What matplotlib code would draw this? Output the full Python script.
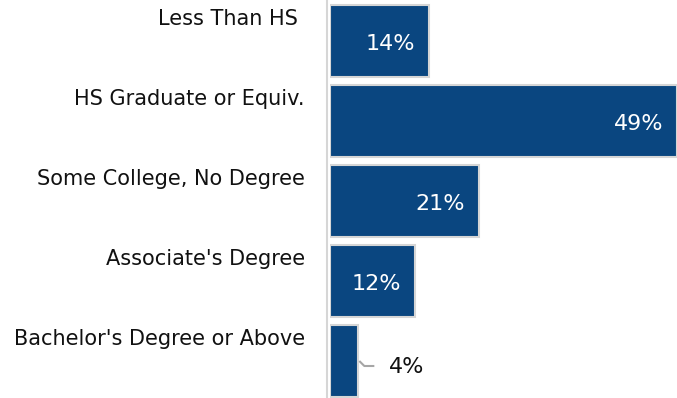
import matplotlib
matplotlib.use("Agg")
import matplotlib.pyplot as plt

categories = [
    "Less Than HS ",
    "HS Graduate or Equiv.",
    "Some College, No Degree",
    "Associate's Degree",
    "Bachelor's Degree or Above",
]
shares = [14, 49, 21, 12, 4]
value_labels = ["14%", "49%", "21%", "12%", "4%"]

BAR_COLOR = "#0a4680"
EDGE_COLOR = "#d6d6d6"
FONT = "DejaVu Sans"

W, H, DPI = 677, 398, 100
fig = plt.figure(figsize=(W / DPI, H / DPI), dpi=DPI)
ax = fig.add_axes([330 / W, 0, 1 - 330 / W, 1])

ypos = list(range(len(categories)))
ax.barh(ypos, shares, height=0.9, color=BAR_COLOR, edgecolor=EDGE_COLOR,
        linewidth=1.5, zorder=2)

ax.set_xlim(0, 49)
ax.set_ylim(4 + (H - 361) / 80, -41 / 80)

for s in ["top", "right", "bottom"]:
    ax.spines[s].set_visible(False)
ax.spines["left"].set_color(EDGE_COLOR)
ax.spines["left"].set_linewidth(1.5)
ax.spines["left"].set_position(("outward", 2))
ax.set_xticks([])
ax.set_yticks([])

# Category names sit beside the top edge of each bar
for y, name in zip(ypos, categories):
    ax.annotate(name, xy=(0, y - 0.45), xycoords=("axes fraction", "data"),
                xytext=(-25, -14), textcoords="offset pixels",
                ha="right", va="center", fontsize=15, family=FONT,
                color="#111111")

# Value labels: inside the bar end, or outside with a leader for short bars
for y, v, lab in zip(ypos, shares, value_labels):
    if v >= 10:
        ax.annotate(lab, xy=(v, y), xycoords="data",
                    xytext=(-14, -3), textcoords="offset pixels",
                    ha="right", va="center", fontsize=16, family=FONT,
                    color="white", zorder=3)
    else:
        ax.annotate(lab, xy=(v, y), xycoords="data",
                    xytext=(31, -6), textcoords="offset pixels",
                    ha="left", va="center", fontsize=16, family=FONT,
                    color="#111111", zorder=3)
        base = ax.transData.transform((v, y))
        xs = [base[0] + 1, base[0] + 6, base[0] + 16]
        ys = [base[1], base[1] - 5, base[1] - 5]
        ax.plot(xs, ys, transform=None, color="#a6a6a6", lw=1.5,
                solid_capstyle="butt", zorder=3)

fig.savefig("out.png", dpi=DPI)
